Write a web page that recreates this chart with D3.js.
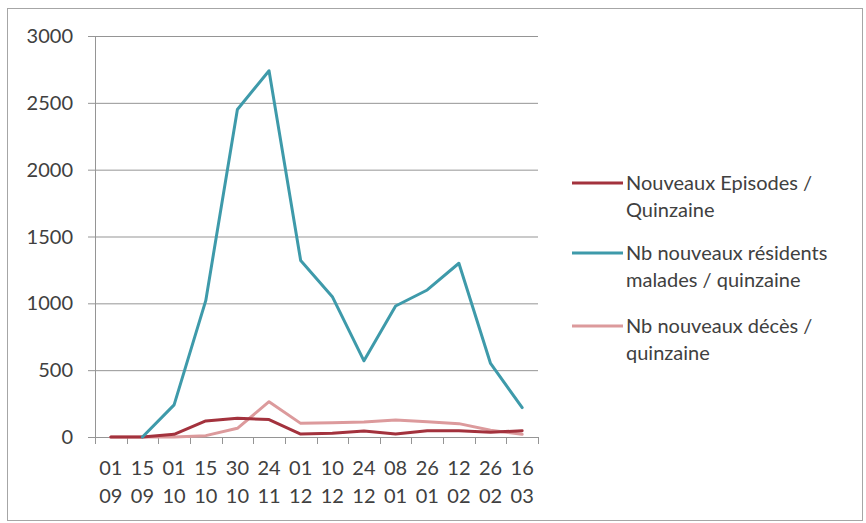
<!DOCTYPE html>
<html><head><meta charset="utf-8">
<script src="https://cdn.jsdelivr.net/npm/d3@7"></script>
<style>body{margin:0;background:#fff;}svg{display:block;}</style>
</head><body><svg id="c" width="866" height="523"></svg>
<script>
const dayLabels = ["01","15","01","15","30","24","01","10","24","08","26","12","26","16"];
const monthLabels = ["09","09","10","10","10","11","12","12","12","01","01","02","02","03"];
const episodes = [0,0,20,120,140,130,22,28,45,22,47,47,35,47];
const malades = [null,0,240,1020,2450,2740,1320,1050,570,980,1100,1300,550,220];
const deces = [0,0,0,10,65,264,102,107,112,128,115,100,50,20];
const seriesNames = [["Nouveaux Episodes /","Quinzaine"],["Nb nouveaux résidents","malades / quinzaine"],["Nb nouveaux décès /","quinzaine"]];
const colors = ["#a3323d","#3e9aaa","#dc9a9c"];
const yTicks = [0,500,1000,1500,2000,2500,3000];

const svg = d3.select("#c");
const font = "Lato, sans-serif";
const fs = 20;
svg.append("rect").attr("x",7.5).attr("y",8.5).attr("width",855).attr("height",512)
  .attr("fill","#fff").attr("stroke","#a6a6a6");

const idx = d3.range(dayLabels.length);
const x = d3.scaleBand().domain(idx).range([95,538]);
const y = d3.scaleLinear().domain([0,3000]).range([437,36]);

const g = svg.append("g");
g.selectAll("line.grid").data(yTicks).join("line")
  .attr("x1",88).attr("x2",538).attr("y1",d=>y(d)+0.5).attr("y2",d=>y(d)+0.5)
  .attr("stroke","#959595").attr("stroke-width",1);
g.append("line").attr("x1",95.5).attr("x2",95.5).attr("y1",36).attr("y2",437)
  .attr("stroke","#959595");
g.selectAll("text.yl").data(yTicks).join("text")
  .attr("x",73).attr("y",d=>y(d)).attr("dy","0.35em").attr("text-anchor","end")
  .attr("font-family",font).attr("font-size",fs).attr("fill","#404040").text(d=>d);
const xt = d3.range(dayLabels.length+1).map(i=>95+i*(538-95)/dayLabels.length);
g.selectAll("line.xt").data(xt).join("line")
  .attr("x1",d=>Math.round(d)+0.5).attr("x2",d=>Math.round(d)+0.5).attr("y1",437).attr("y2",444)
  .attr("stroke","#959595");
g.selectAll("text.xl1").data(idx).join("text")
  .attr("x",d=>x(d)+x.bandwidth()/2).attr("y",475).attr("text-anchor","middle")
  .attr("font-family",font).attr("font-size",fs).attr("fill","#404040").text(d=>dayLabels[d]);
g.selectAll("text.xl2").data(idx).join("text")
  .attr("x",d=>x(d)+x.bandwidth()/2).attr("y",503).attr("text-anchor","middle")
  .attr("font-family",font).attr("font-size",fs).attr("fill","#404040").text(d=>monthLabels[d]);

const line = d3.line().defined(d=>d[1]!==null)
  .x(d=>x(d[0])+x.bandwidth()/2).y(d=>y(d[1]));
const data = [episodes,malades,deces];
[2,0,1].forEach(k=>{
  g.append("path").datum(data[k].map((v,i)=>[i,v])).attr("d",line)
    .attr("fill","none").attr("stroke",colors[k]).attr("stroke-width",3)
    .attr("stroke-linejoin","round").attr("stroke-linecap","round");
});
const ly = [183,253,326];
seriesNames.forEach((nm,k)=>{
  g.append("line").attr("x1",572).attr("x2",623).attr("y1",ly[k]).attr("y2",ly[k])
    .attr("stroke",colors[k]).attr("stroke-width",3);
  nm.forEach((t,j)=>{
    g.append("text").attr("x",626).attr("y",ly[k]+j*27).attr("dy","0.35em")
      .attr("font-family",font).attr("font-size",fs).attr("fill","#404040").text(t);
  });
});
</script></body></html>
